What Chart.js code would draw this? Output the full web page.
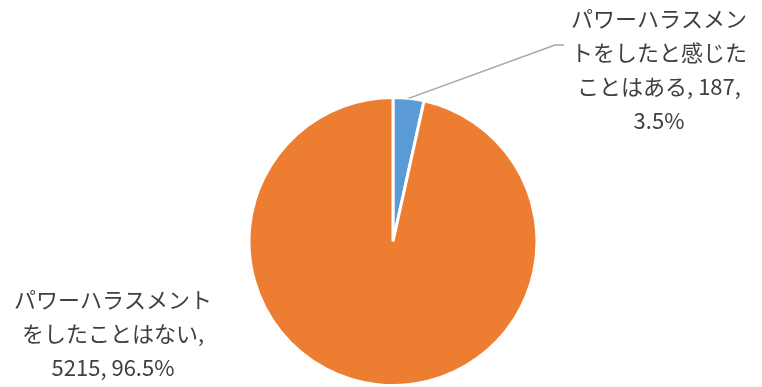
<!DOCTYPE html>
<html>
<head>
<meta charset="utf-8">
<script src="https://cdn.jsdelivr.net/npm/chart.js@4"></script>
<style>
  html, body { margin: 0; padding: 0; background: #fff; }
  #wrap { width: 762px; height: 387px; position: relative; }
</style>
</head>
<body>
<div id="wrap"><canvas id="pie"></canvas></div>
<script>
// Data
const categories = ['パワーハラスメントをしたと感じたことはある', 'パワーハラスメントをしたことはない'];
const counts = [187, 5215];
const percents = ['3.5%', '96.5%'];
const sliceColors = ['#5B9BD5', '#ED7D31'];

// label text, already broken into lines like the original
const labelLines = [
    ['パワーハラスメン', 'トをしたと感じた', 'ことはある, ' + counts[0] + ',', percents[0]],
    ['パワーハラスメント', 'をしたことはない,', counts[1] + ', ' + percents[1]]
];

const labelFont = '22px "Noto Sans CJK JP", "Open Sans", sans-serif';
const lineH = 34;

// Draw the data labels + leader line
const labelPlugin = {
    id: 'pieLabels',
    afterDraw(chart) {
        const c = chart.ctx;
        const arcs = chart.getDatasetMeta(0).data;
        c.save();
        c.font = labelFont;
        c.fillStyle = '#404040';
        c.textAlign = 'center';
        c.textBaseline = 'middle';

        // small slice: label top right with leader line
        const a0 = arcs[0];
        const mid = (a0.startAngle + a0.endAngle) / 2;
        const sx = a0.x + Math.cos(mid) * a0.outerRadius;
        const sy = a0.y + Math.sin(mid) * a0.outerRadius;
        c.strokeStyle = '#A6A6A6';
        c.lineWidth = 1.5;
        c.beginPath();
        c.moveTo(sx, sy);
        c.lineTo(555, 45);
        c.lineTo(564, 45);
        c.stroke();
        labelLines[0].forEach((t, i) => c.fillText(t, 659, 19 + i * lineH));

        // big slice: label bottom left
        labelLines[1].forEach((t, i) => c.fillText(t, 113, 300 + i * lineH));
        c.restore();
    }
};

new Chart(document.getElementById('pie').getContext('2d'), {
    type: 'pie',
    data: {
        labels: categories,
        datasets: [{
            data: counts,
            backgroundColor: sliceColors,
            borderColor: '#ffffff',
            borderWidth: 3
        }]
    },
    options: {
        responsive: true,
        maintainAspectRatio: false,
        animation: false,
        layout: { padding: { top: 96, bottom: 0, left: 247, right: 223 } },
        plugins: {
            legend: { display: false },
            tooltip: { enabled: false }
        }
    },
    plugins: [labelPlugin]
});
</script>
</body>
</html>
